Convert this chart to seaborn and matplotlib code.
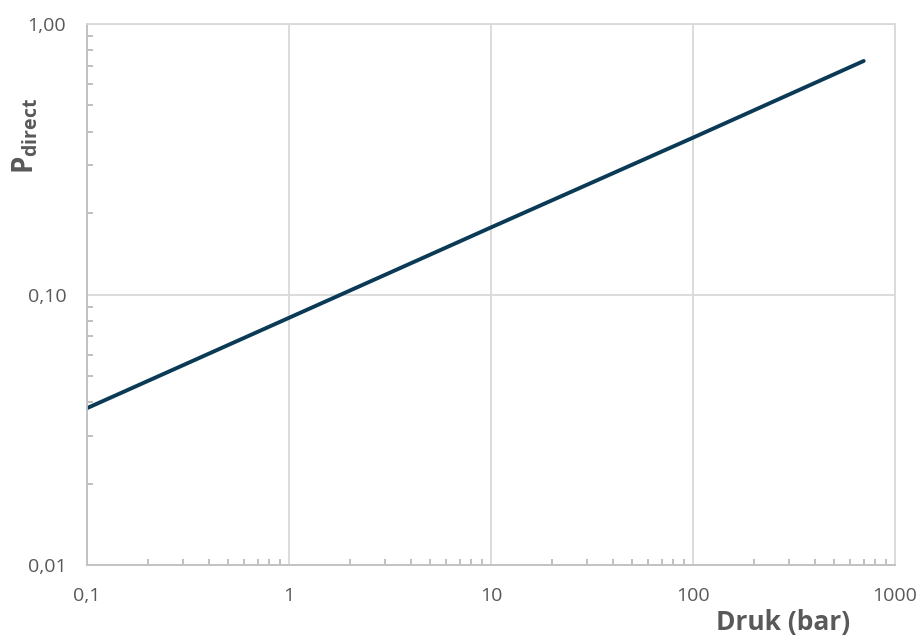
import matplotlib
matplotlib.use("Agg")
import matplotlib.pyplot as plt
import seaborn as sns
import pandas as pd
from matplotlib.ticker import LogLocator, NullFormatter

pressure = [0.1, 1, 10, 100, 700]
p_direct = [0.038, 0.082, 0.177, 0.38, 0.73]
x_ticks = [0.1, 1, 10, 100, 1000]
x_labels = ["0,1", "1", "10", "100", "1000"]
y_ticks = [0.01, 0.1, 1.0]
y_labels = ["0,01", "0,10", "1,00"]

sns.set_style("white")
plt.rcParams['font.family'] = ['Open Sans', 'DejaVu Sans']
plt.rcParams['mathtext.fontset'] = 'custom'
plt.rcParams['mathtext.rm'] = 'Open Sans'
plt.rcParams['mathtext.bf'] = 'Open Sans:bold'

df = pd.DataFrame({"Druk": pressure, "P": p_direct})

fig = plt.figure(figsize=(9.22, 6.4), dpi=100)
ax = fig.add_axes([87/922, 75/640, (895-87)/922, (565-24)/640])

sns.lineplot(data=df, x="Druk", y="P", ax=ax, color="#0a3a55", linewidth=2.8)
ax.set_xscale("log")
ax.set_yscale("log")
ax.set_xlim(0.1, 1000)
ax.set_ylim(0.01, 1.0)

grid_c = "#d9d9d9"
axis_c = "#bfbfbf"
ax.set_xticks(x_ticks)
ax.set_xticklabels(x_labels)
ax.set_yticks(y_ticks)
ax.set_yticklabels(y_labels)
ax.xaxis.set_minor_locator(LogLocator(base=10, subs=range(2, 10)))
ax.yaxis.set_minor_locator(LogLocator(base=10, subs=range(2, 10)))
ax.xaxis.set_minor_formatter(NullFormatter())
ax.yaxis.set_minor_formatter(NullFormatter())
ax.tick_params(which="both", bottom=True, left=True, top=False, right=False)
ax.tick_params(which="major", length=0, labelsize=14, labelcolor="#595959")
ax.tick_params(axis="x", which="major", pad=16)
ax.tick_params(axis="y", which="major", pad=15)
ax.tick_params(which="minor", direction="in", length=4, width=1.2, color="#b5b5b5")
ax.grid(True, which="major", color=grid_c, linewidth=1.3)
ax.set_axisbelow(True)

for s in ["left", "bottom"]:
    ax.spines[s].set_color(axis_c)
    ax.spines[s].set_linewidth(1.3)
for s in ["top", "right"]:
    ax.spines[s].set_color(grid_c)
    ax.spines[s].set_linewidth(1.3)

ax.set_xlabel("")
ax.set_ylabel("")
fig.text(850/922, 4/640, "Druk (bar)", ha="right", va="bottom", fontsize=19,
         fontweight="bold", color="#595959")
fig.text(25/922, (640-136)/640, r"$\mathbf{P_{direct}}$", rotation=90,
         ha="center", va="center", fontsize=20, color="#595959")

fig.savefig("out.png", dpi=100)
